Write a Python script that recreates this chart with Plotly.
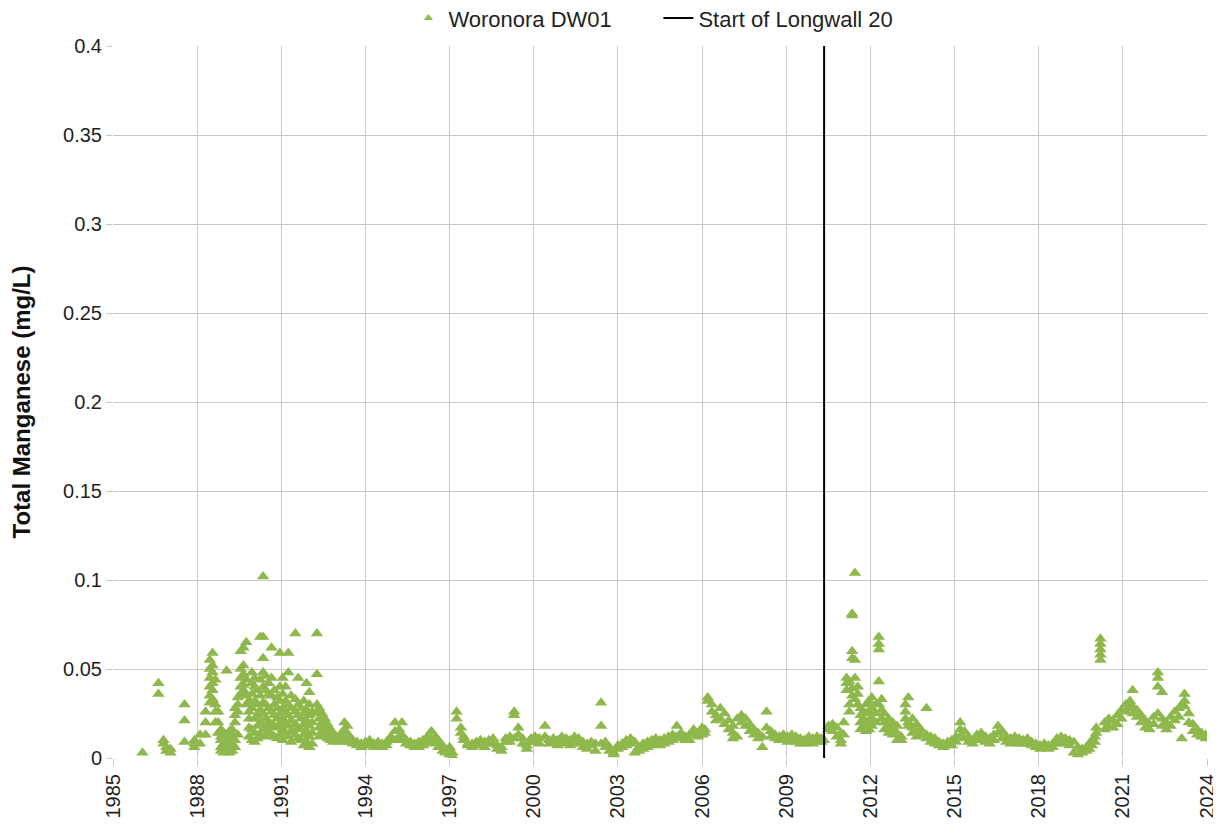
import plotly.graph_objects as go

# ---- data (decimal year of sample, total manganese mg/L) ----
dates_1986_1990 = [1986.05, 1986.62, 1986.8, 1986.9, 1987.05, 1987.55, 1987.9,
                   1988.1, 1988.3, 1988.45, 1988.55, 1988.65, 1988.75, 1988.85, 1988.95,
                   1989.05, 1989.15, 1989.25, 1989.35, 1989.45, 1989.55, 1989.65, 1989.75,
                   1989.85, 1989.95, 1990.05, 1990.15, 1990.25, 1990.35, 1990.45, 1990.55,
                   1990.65, 1990.75, 1990.85, 1990.95]
mn_1986_1990 = [[0.003], [0.042, 0.036], [0.010, 0.008], [0.006, 0.004], [0.005, 0.003],
                [0.030, 0.021, 0.009], [0.008, 0.006, 0.010],
                [0.013, 0.008], [0.020, 0.013, 0.026], [0.031, 0.035, 0.040, 0.045, 0.050, 0.055],
                [0.038, 0.042, 0.048, 0.052, 0.059, 0.033], [0.026, 0.020, 0.030, 0.044],
                [0.026, 0.020, 0.014], [0.010, 0.006, 0.004, 0.012, 0.016], [0.008, 0.003, 0.011, 0.014],
                [0.049, 0.005, 0.009, 0.013], [0.006, 0.010, 0.015, 0.003], [0.008, 0.012, 0.004, 0.016],
                [0.020, 0.024, 0.028, 0.010, 0.006], [0.030, 0.034, 0.026, 0.013],
                [0.040, 0.045, 0.050, 0.036, 0.060], [0.062, 0.052, 0.047, 0.041, 0.038],
                [0.065, 0.044, 0.035, 0.030], [0.032, 0.026, 0.022, 0.017, 0.012],
                [0.048, 0.042, 0.036, 0.028, 0.016, 0.010], [0.045, 0.040, 0.032, 0.022, 0.014, 0.009],
                [0.038, 0.030, 0.024, 0.018, 0.011], [0.068, 0.044, 0.035, 0.027, 0.020, 0.013],
                [0.068, 0.102, 0.056, 0.048, 0.040, 0.031, 0.025, 0.016],
                [0.046, 0.038, 0.030, 0.022, 0.018, 0.012], [0.042, 0.036, 0.028, 0.020, 0.015],
                [0.062, 0.045, 0.035, 0.026, 0.019, 0.013], [0.038, 0.030, 0.024, 0.018, 0.012],
                [0.034, 0.028, 0.022, 0.017, 0.011], [0.059, 0.040, 0.032, 0.025, 0.019, 0.013]]

dates_1991_1997 = [1991.05, 1991.15, 1991.25, 1991.35, 1991.5, 1991.6, 1991.7, 1991.8, 1991.9,
                   1992.0, 1992.1, 1992.27, 1992.35, 1992.45, 1992.55, 1992.65, 1992.75, 1992.85,
                   1992.95, 1993.05, 1993.15, 1993.25, 1993.35, 1993.45, 1993.55, 1993.7, 1993.85,
                   1994.0, 1994.15, 1994.3, 1994.45, 1994.6, 1994.75, 1994.9, 1995.05, 1995.2,
                   1995.3, 1995.45, 1995.6, 1995.75, 1995.9, 1996.05, 1996.2, 1996.35, 1996.5,
                   1996.6, 1996.75, 1996.85, 1997.0, 1997.1]
mn_1991_1997 = [[0.045, 0.036, 0.028, 0.022, 0.016, 0.010], [0.040, 0.032, 0.026, 0.020, 0.014],
                [0.059, 0.048, 0.030, 0.024, 0.018, 0.012], [0.035, 0.028, 0.021, 0.015, 0.009],
                [0.070, 0.033, 0.026, 0.019, 0.013], [0.045, 0.030, 0.024, 0.017, 0.011],
                [0.028, 0.022, 0.016, 0.010], [0.032, 0.025, 0.019, 0.013, 0.007],
                [0.042, 0.027, 0.021, 0.015, 0.009], [0.037, 0.030, 0.024, 0.018, 0.012, 0.006],
                [0.026, 0.020, 0.014, 0.008], [0.070, 0.047, 0.030, 0.025],
                [0.028, 0.022, 0.017, 0.012], [0.025, 0.020, 0.015], [0.022, 0.018, 0.013],
                [0.019, 0.015, 0.011], [0.016, 0.012, 0.010], [0.014, 0.011, 0.009],
                [0.012, 0.010], [0.011, 0.009], [0.014, 0.010], [0.020, 0.016, 0.012],
                [0.018, 0.013, 0.009], [0.012, 0.009], [0.010, 0.008], [0.009, 0.007],
                [0.008, 0.006], [0.007, 0.009], [0.010, 0.007], [0.008, 0.006], [0.009, 0.007],
                [0.008, 0.006], [0.009, 0.007], [0.012, 0.010], [0.020, 0.015, 0.010],
                [0.016, 0.012], [0.020, 0.013, 0.010], [0.010, 0.008], [0.009, 0.007],
                [0.008, 0.006], [0.009, 0.006], [0.010, 0.007], [0.012, 0.009],
                [0.015, 0.011, 0.008], [0.012, 0.009], [0.010, 0.006], [0.004, 0.007],
                [0.005, 0.003], [0.004, 0.002, 0.006], [0.003, 0.001]]

dates_1997_2010 = [1997.25, 1997.4, 1997.5, 1997.65, 1997.8, 1997.95, 1998.1, 1998.25, 1998.4,
                   1998.55, 1998.7, 1998.85, 1999.0, 1999.15, 1999.3, 1999.45, 1999.6, 1999.75,
                   1999.9, 2000.05, 2000.2, 2000.4, 2000.55, 2000.7, 2000.85, 2001.0, 2001.15,
                   2001.3, 2001.45, 2001.6, 2001.75, 2001.9, 2002.05, 2002.2, 2002.4, 2002.55,
                   2002.7, 2002.85, 2003.0, 2003.15, 2003.3, 2003.45, 2003.6, 2003.75, 2003.9,
                   2004.05, 2004.2, 2004.35, 2004.5, 2004.65, 2004.8, 2004.95, 2005.1, 2005.25,
                   2005.4, 2005.55, 2005.7, 2005.85, 2006.0, 2006.1, 2006.2, 2006.35, 2006.5,
                   2006.65, 2006.8, 2006.95, 2007.1, 2007.25, 2007.4, 2007.55, 2007.7, 2007.85,
                   2008.0, 2008.15, 2008.3, 2008.45, 2008.6, 2008.75, 2008.9, 2009.05, 2009.2,
                   2009.35, 2009.5, 2009.65, 2009.8, 2009.95, 2010.1, 2010.25]
mn_1997_2010 = [[0.026, 0.022], [0.017, 0.014], [0.012, 0.010], [0.008, 0.007], [0.006, 0.008],
                [0.007, 0.009], [0.010, 0.007], [0.009, 0.006], [0.010, 0.008], [0.011, 0.008],
                [0.007, 0.005], [0.004, 0.006], [0.009, 0.011], [0.012, 0.009],
                [0.026, 0.024, 0.011], [0.017, 0.013], [0.011, 0.008], [0.007, 0.005],
                [0.009, 0.011], [0.012, 0.009], [0.011, 0.008], [0.018, 0.012], [0.010, 0.008],
                [0.011, 0.009], [0.010, 0.007], [0.012, 0.009], [0.011, 0.008], [0.010, 0.007],
                [0.012, 0.009], [0.011, 0.008], [0.009, 0.006], [0.008, 0.005], [0.009, 0.007],
                [0.008, 0.004], [0.031, 0.018, 0.008], [0.009, 0.006], [0.006, 0.004],
                [0.003, 0.002], [0.005, 0.007], [0.008, 0.006], [0.010, 0.007], [0.011, 0.008],
                [0.009, 0.003], [0.006, 0.004], [0.008, 0.005], [0.009, 0.006], [0.010, 0.007],
                [0.011, 0.008], [0.010, 0.007], [0.011, 0.008], [0.012, 0.009], [0.013, 0.010],
                [0.018, 0.012], [0.014, 0.011], [0.012, 0.010], [0.013, 0.010], [0.016, 0.013],
                [0.014, 0.012], [0.017, 0.013], [0.016, 0.014], [0.034, 0.032], [0.030, 0.026],
                [0.024, 0.021], [0.028, 0.022], [0.025, 0.019], [0.021, 0.016],
                [0.018, 0.014, 0.011], [0.012, 0.022], [0.024, 0.020], [0.022, 0.018],
                [0.019, 0.015], [0.016, 0.013], [0.014, 0.011], [0.006, 0.012], [0.026, 0.017],
                [0.015, 0.012], [0.013, 0.011], [0.012, 0.010], [0.013, 0.011], [0.012, 0.009],
                [0.013, 0.010], [0.012, 0.009], [0.011, 0.008], [0.010, 0.008], [0.012, 0.009],
                [0.011, 0.008], [0.012, 0.009], [0.011, 0.009]]

dates_2010_2017 = [2010.35, 2010.5, 2010.65, 2010.8, 2010.95, 2011.05, 2011.15, 2011.25, 2011.35,
                   2011.45, 2011.55, 2011.65, 2011.75, 2011.85, 2011.95, 2012.05, 2012.2, 2012.3,
                   2012.4, 2012.5, 2012.65, 2012.8, 2012.95, 2013.1, 2013.25, 2013.35, 2013.5,
                   2013.65, 2013.8, 2014.0, 2014.15, 2014.3, 2014.45, 2014.6, 2014.75, 2014.9,
                   2015.05, 2015.2, 2015.35, 2015.5, 2015.65, 2015.8, 2015.95, 2016.1, 2016.25,
                   2016.4, 2016.55, 2016.7, 2016.85, 2017.0, 2017.15, 2017.3, 2017.45, 2017.6,
                   2017.75, 2017.9]
mn_2010_2017 = [[0.010], [0.018, 0.016], [0.019, 0.015], [0.017, 0.012], [0.014, 0.010, 0.008],
                [0.020, 0.013], [0.045, 0.042, 0.038], [0.043, 0.030, 0.026],
                [0.056, 0.060, 0.080, 0.081, 0.039, 0.035], [0.104, 0.055, 0.045, 0.033],
                [0.040, 0.036, 0.030], [0.028, 0.024, 0.020, 0.016], [0.026, 0.022, 0.018],
                [0.030, 0.025, 0.019, 0.015], [0.032, 0.026, 0.021, 0.016],
                [0.034, 0.028, 0.022, 0.018], [0.030, 0.025, 0.020],
                [0.068, 0.064, 0.061, 0.043, 0.030], [0.033, 0.027, 0.022], [0.025, 0.020, 0.016],
                [0.022, 0.018, 0.014], [0.020, 0.016, 0.013], [0.018, 0.010, 0.014],
                [0.012, 0.010], [0.030, 0.026, 0.022], [0.034, 0.020, 0.018],
                [0.022, 0.017, 0.014], [0.019, 0.015, 0.012], [0.016, 0.013],
                [0.028, 0.013, 0.011], [0.012, 0.009], [0.011, 0.008], [0.009, 0.007],
                [0.008, 0.006], [0.009, 0.007], [0.010, 0.007], [0.012, 0.009],
                [0.020, 0.016, 0.012], [0.015, 0.011], [0.012, 0.009], [0.010, 0.008],
                [0.013, 0.010], [0.014, 0.011], [0.012, 0.009], [0.011, 0.008], [0.013, 0.010],
                [0.018, 0.014], [0.015, 0.011], [0.012, 0.009], [0.011, 0.008], [0.012, 0.009],
                [0.011, 0.008], [0.010, 0.008], [0.011, 0.008], [0.009, 0.007], [0.008, 0.006]]

dates_2018_2024 = [2018.05, 2018.2, 2018.35, 2018.5, 2018.65, 2018.8, 2018.95, 2019.1, 2019.25,
                   2019.4, 2019.55, 2019.7, 2019.8, 2019.9, 2020.0, 2020.05, 2020.2, 2020.35,
                   2020.5, 2020.65, 2020.8, 2020.95, 2021.1, 2021.25, 2021.35, 2021.5, 2021.65,
                   2021.8, 2021.95, 2022.1, 2022.25, 2022.4, 2022.55, 2022.7, 2022.85, 2023.0,
                   2023.1, 2023.2, 2023.35, 2023.5, 2023.65, 2023.8, 2023.95]
mn_2018_2024 = [[0.007, 0.005], [0.006, 0.008], [0.007, 0.005], [0.008, 0.006], [0.011, 0.008],
                [0.012, 0.009], [0.011, 0.008], [0.010, 0.007], [0.009, 0.003], [0.006, 0.002],
                [0.005, 0.003], [0.006, 0.004], [0.008, 0.005], [0.010, 0.007], [0.012, 0.009],
                [0.017, 0.014], [0.067, 0.064, 0.061, 0.058, 0.055], [0.020, 0.016],
                [0.022, 0.018], [0.021, 0.017], [0.024, 0.019], [0.027, 0.022], [0.030, 0.026],
                [0.032, 0.028], [0.038, 0.029, 0.025], [0.027, 0.023], [0.024, 0.020],
                [0.021, 0.017], [0.019, 0.016], [0.023, 0.019], [0.048, 0.045, 0.040, 0.025],
                [0.037, 0.022, 0.018], [0.020, 0.016], [0.023, 0.018], [0.026, 0.021],
                [0.028, 0.023], [0.011, 0.030], [0.036, 0.032, 0.029], [0.025, 0.020],
                [0.019, 0.015], [0.016, 0.013], [0.014, 0.012], [0.013, 0.011]]

longwall_start = 2010.35
x_tick_years = list(range(1985, 2025, 3))
y_ticks = [0, 0.05, 0.1, 0.15, 0.2, 0.25, 0.3, 0.35, 0.4]
y_tick_text = ["0", "0.05", "0.1", "0.15", "0.2", "0.25", "0.3", "0.35", "0.4"]

# flatten grouped samples into point lists
xs, ys = [], []
for d_list, v_list in [(dates_1986_1990, mn_1986_1990), (dates_1991_1997, mn_1991_1997),
                       (dates_1997_2010, mn_1997_2010), (dates_2010_2017, mn_2010_2017),
                       (dates_2018_2024, mn_2018_2024)]:
    for d, vals in zip(d_list, v_list):
        for v in vals:
            xs.append(d)
            ys.append(v)

GREEN = "#8fb84c"
FONT = "Liberation Sans, Arial, sans-serif"
TXT = "#1f1f1f"

fig = go.Figure()
fig.add_trace(go.Scatter(
    x=xs, y=ys, mode="markers", name="Woronora DW01", showlegend=False,
    legendgroup="dw01",
    marker=dict(symbol="triangle-up", size=11, color=GREEN, line=dict(width=0)),
))
# legend entry for the sample series (smaller symbol, as in the original legend)
fig.add_trace(go.Scatter(
    x=[None], y=[None], mode="markers", name="Woronora DW01", legendgroup="dw01",
    marker=dict(symbol="triangle-up", size=8, color=GREEN, line=dict(width=0)),
))
fig.add_trace(go.Scatter(
    x=[longwall_start, longwall_start], y=[0, 0.4], mode="lines",
    name="Start of Longwall 20", line=dict(color="black", width=2),
))

fig.update_layout(
    width=1213, height=823,
    margin=dict(l=105, r=14, t=38, b=73, autoexpand=False),
    paper_bgcolor="white", plot_bgcolor="white",
    font=dict(family=FONT, size=20, color=TXT),
    showlegend=True,
    legend=dict(orientation="h", x=0.27, xanchor="left", y=1.039, yanchor="middle",
                entrywidth=205, entrywidthmode="pixels",
                font=dict(size=22, color=TXT), bgcolor="rgba(0,0,0,0)"),
)
fig.update_xaxes(
    range=[1985, 2024], tickmode="array", tickvals=x_tick_years,
    ticktext=[str(y) for y in x_tick_years], tickangle=-90,
    showgrid=True, gridcolor="#c8c8c8", gridwidth=1,
    ticks="outside", ticklen=7, tickcolor="#c8c8c8",
    showline=False, zeroline=False, tickfont=dict(size=20, color=TXT),
)
fig.update_yaxes(
    range=[0, 0.4], tickmode="array", tickvals=y_ticks, ticktext=y_tick_text,
    showgrid=True, gridcolor="#c8c8c8", gridwidth=1,
    ticks="outside", ticklen=6, tickcolor="#c8c8c8",
    showline=False, zeroline=False, tickfont=dict(size=20, color=TXT),
    title=dict(text="<b>Total Manganese (mg/L)</b>", font=dict(size=24, color="#111111"), standoff=26),
)

fig.write_html("out.html")
